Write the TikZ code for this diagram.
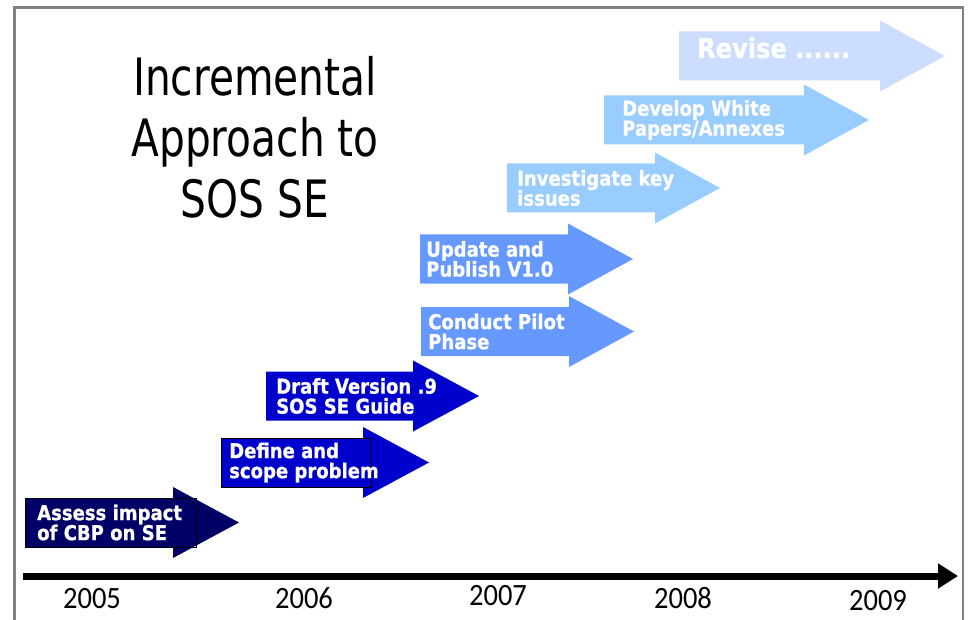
\documentclass[tikz,border=0pt]{standalone}
\usepackage{fontspec}
\usetikzlibrary{arrows.meta}

\newfontfamily\titlefont[FakeStretch=0.79]{DejaVu Sans}
\newfontfamily\boxfont[FakeStretch=0.88,BoldFeatures={FakeBold=0.8}]{DejaVu Sans}
\newfontfamily\yearfont[FakeStretch=0.92]{Carlito}

\definecolor{navyarrow}{RGB}{0,0,102}
\definecolor{bluearrow}{RGB}{0,0,204}
\definecolor{midarrow}{RGB}{102,153,255}
\definecolor{lightarrow}{RGB}{153,204,255}
\definecolor{palearrow}{RGB}{204,221,255}
\definecolor{framegray}{RGB}{128,128,128}

% flecha de bloque: color, x inicio, y centro, x base de la punta, x punta
\newcommand{\phasearrow}[5]{%
  \fill[#1] (#2,#3-24.5) -- (#4,#3-24.5) -- (#4,#3-35.5) -- (#5,#3)
    -- (#4,#3+35.5) -- (#4,#3+24.5) -- (#2,#3+24.5) -- cycle;}

\begin{document}
\begin{tikzpicture}
  [x=1pt,y=-1pt,
   phase/.style={font=\boxfont\bfseries\fontsize{20.5}{20}\selectfont,text=white,align=left,anchor=west,inner sep=0pt},
   tagbox/.style={draw=black,line width=1pt,anchor=north west,inner sep=0pt,minimum width=171,minimum height=49},
   year/.style={font=\yearfont\fontsize{31}{31}\selectfont,anchor=base,inner sep=0pt}]
\useasboundingbox (0,0) rectangle (968,620);
  % Marco
  \draw[framegray,line width=2.5pt] (14.5,660) -- (14.5,7.5) -- (963,7.5) -- (963,660);

  % Titulo
  \node[font=\titlefont\fontsize{51.5}{61}\selectfont,align=center,anchor=north,inner sep=0pt]
    (title) at (255,56) {Incremental\\Approach to\\SOS SE};

  % Flechas de las fases
  \phasearrow{navyarrow}{25}{522.5}{173}{239}
  \phasearrow{bluearrow}{221}{462.5}{363}{429}
  \phasearrow{bluearrow}{266}{396}{413}{479}
  \phasearrow{midarrow}{420}{259}{568}{633}
  \phasearrow{midarrow}{421}{331.5}{569}{634}
  \phasearrow{lightarrow}{507}{188}{655}{720}
  \phasearrow{lightarrow}{604}{120}{804}{869}
  \phasearrow{palearrow}{679}{56}{880}{945}

  \node[tagbox] (b1) at (25,498) {};
  \node[tagbox,minimum width=150] (b2) at (221,438) {};

  \node[phase] (a1) at (37,522.5)  {Assess impact\\of CBP on SE};
  \node[phase] (a2) at (229,462.5) {Define and\\scope problem};
  \node[phase] (a3) at (276,396)   {Draft Version .9\\SOS SE Guide};
  \node[phase] (a4) at (426,259)   {Update and\\Publish V1.0};
  \node[phase] (a5) at (428,331.5) {Conduct Pilot\\Phase};
  \node[phase] (a6) at (517,188)   {Investigate key\\issues};
  \node[phase] (a7) at (622,120)   {Develop White\\Papers/Annexes};
  \node[phase,anchor=base west,font=\boxfont\bfseries\fontsize{27.4}{27}\selectfont]
    (a8) at (697,58) {Revise ......};

  % Eje temporal
  \coordinate (t0) at (23,576);
  \coordinate (t1) at (958,576);
  \draw[line width=7pt,-{Triangle[length=20pt,width=24pt]}] (t0) -- (t1);

  \foreach \yr/\x/\y in {2005/92/608, 2006/304/608, 2007/498/605, 2008/683/608, 2009/878/610}
    \node[year] (y\yr) at (\x,\y) {\yr};
\end{tikzpicture}
\end{document}
